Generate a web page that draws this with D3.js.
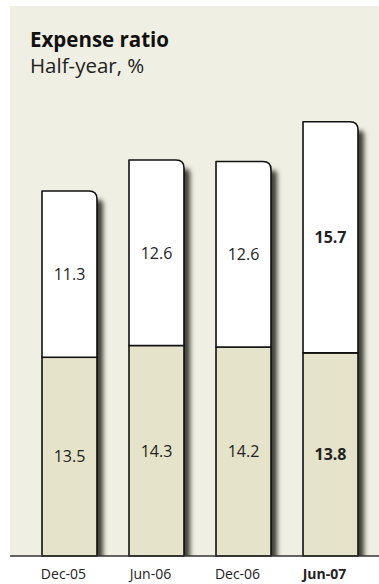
<!DOCTYPE html>
<html>
<head>
<meta charset="utf-8">
<script src="https://cdn.jsdelivr.net/npm/d3@7"></script>
<style>
  html, body { margin: 0; padding: 0; background: #ffffff; }
  svg { display: block; font-family: "Open Sans", "Noto Sans", sans-serif; }
</style>
</head>
<body>
<svg id="chart" width="379" height="584"></svg>
<script>
// Expense ratio by half-year, split into two stacked components
const categories = ["Dec-05", "Jun-06", "Dec-06", "Jun-07"];
const lowerValues = [13.5, 14.3, 14.2, 13.8];
const upperValues = [11.3, 12.6, 12.6, 15.7];
const highlighted = ["Jun-07"];

const W = 379, H = 584;
const panel = { x: 10, y: 6 };
const axisY = 556;

const svg = d3.select("#chart");

// Shadow blur
const defs = svg.append("defs");
const blur = defs.append("filter").attr("id", "soft")
  .attr("x", "-50%").attr("y", "-10%").attr("width", "200%").attr("height", "120%");
blur.append("feGaussianBlur").attr("stdDeviation", 2.8);
defs.append("clipPath").attr("id", "plotClip")
  .append("rect").attr("x", panel.x).attr("y", panel.y)
  .attr("width", W - panel.x).attr("height", axisY - panel.y);

// Background panel
svg.append("rect")
  .attr("x", panel.x).attr("y", panel.y)
  .attr("width", W - panel.x).attr("height", axisY - panel.y)
  .attr("fill", "#f0efe3");

// Title
svg.append("text").attr("x", 30).attr("y", 47)
  .attr("font-size", 20.5).attr("font-weight", "bold").attr("fill", "#111")
  .text("Expense ratio");
svg.append("text").attr("x", 30).attr("y", 73)
  .attr("font-size", 20.5).attr("fill", "#222")
  .text("Half-year, %");

const x = d3.scaleBand().domain(categories).range([42, 358])
  .paddingInner(0.368).paddingOuter(0);
const y = d3.scaleLinear().domain([0, 30]).range([axisY, axisY - 30 * 14.72]);

const data = categories.map((c, i) => ({
  cat: c, lower: lowerValues[i], upper: upperValues[i], total: lowerValues[i] + upperValues[i],
  bold: highlighted.includes(c)
}));

const bw = x.bandwidth();
const r = 8;

// Drop shadows on the right side of each bar
svg.append("g").attr("clip-path", "url(#plotClip)")
  .selectAll("rect").data(data).join("rect")
  .attr("x", d => x(d.cat) + bw - 5)
  .attr("y", d => y(d.total) + 9)
  .attr("width", 11)
  .attr("height", d => axisY - y(d.total))
  .attr("rx", 4)
  .attr("fill", "#3c3c36")
  .attr("filter", "url(#soft)");

const bars = svg.append("g").selectAll("g").data(data).join("g");

// Lower segment
bars.append("rect")
  .attr("x", d => x(d.cat))
  .attr("y", d => y(d.lower))
  .attr("width", bw)
  .attr("height", d => axisY - y(d.lower))
  .attr("fill", "#e5e3c9")
  .attr("stroke", "#111").attr("stroke-width", 1.6);

// Upper segment with rounded top-right corner
bars.append("path")
  .attr("d", d => {
    const x0 = x(d.cat), x1 = x0 + bw, y0 = y(d.total), y1 = y(d.lower);
    return `M${x0},${y1}V${y0}H${x1 - r}Q${x1},${y0} ${x1},${y0 + r}V${y1}Z`;
  })
  .attr("fill", "#ffffff")
  .attr("stroke", "#111").attr("stroke-width", 1.6).attr("stroke-linejoin", "round");

// Value labels
bars.append("text")
  .attr("x", d => x(d.cat) + bw / 2)
  .attr("y", d => (y(d.total) + y(d.lower)) / 2)
  .attr("dy", "0.36em").attr("text-anchor", "middle")
  .attr("font-size", 16).attr("fill", "#222")
  .attr("font-weight", d => d.bold ? "bold" : "normal")
  .text(d => d3.format(".1f")(d.upper));
bars.append("text")
  .attr("x", d => x(d.cat) + bw / 2)
  .attr("y", d => (y(d.lower) + axisY) / 2)
  .attr("dy", "0.36em").attr("text-anchor", "middle")
  .attr("font-size", 16).attr("fill", "#222")
  .attr("font-weight", d => d.bold ? "bold" : "normal")
  .text(d => d3.format(".1f")(d.lower));

// Baseline axis
const axis = svg.append("g").attr("transform", `translate(0,${axisY})`)
  .call(d3.axisBottom(x).tickSize(0).tickPadding(0));
axis.select(".domain").remove();
axis.append("line").attr("x1", panel.x).attr("x2", W).attr("y1", 0).attr("y2", 0)
  .attr("stroke", "#333").attr("stroke-width", 1.5);
axis.selectAll(".tick text")
  .attr("y", 23).attr("dy", 0).attr("dx", -6)
  .attr("font-family", "\"Open Sans\", \"Noto Sans\", sans-serif")
  .attr("font-size", 14).attr("fill", "#222")
  .attr("font-weight", d => highlighted.includes(d) ? "bold" : "normal");
</script>
</body>
</html>
